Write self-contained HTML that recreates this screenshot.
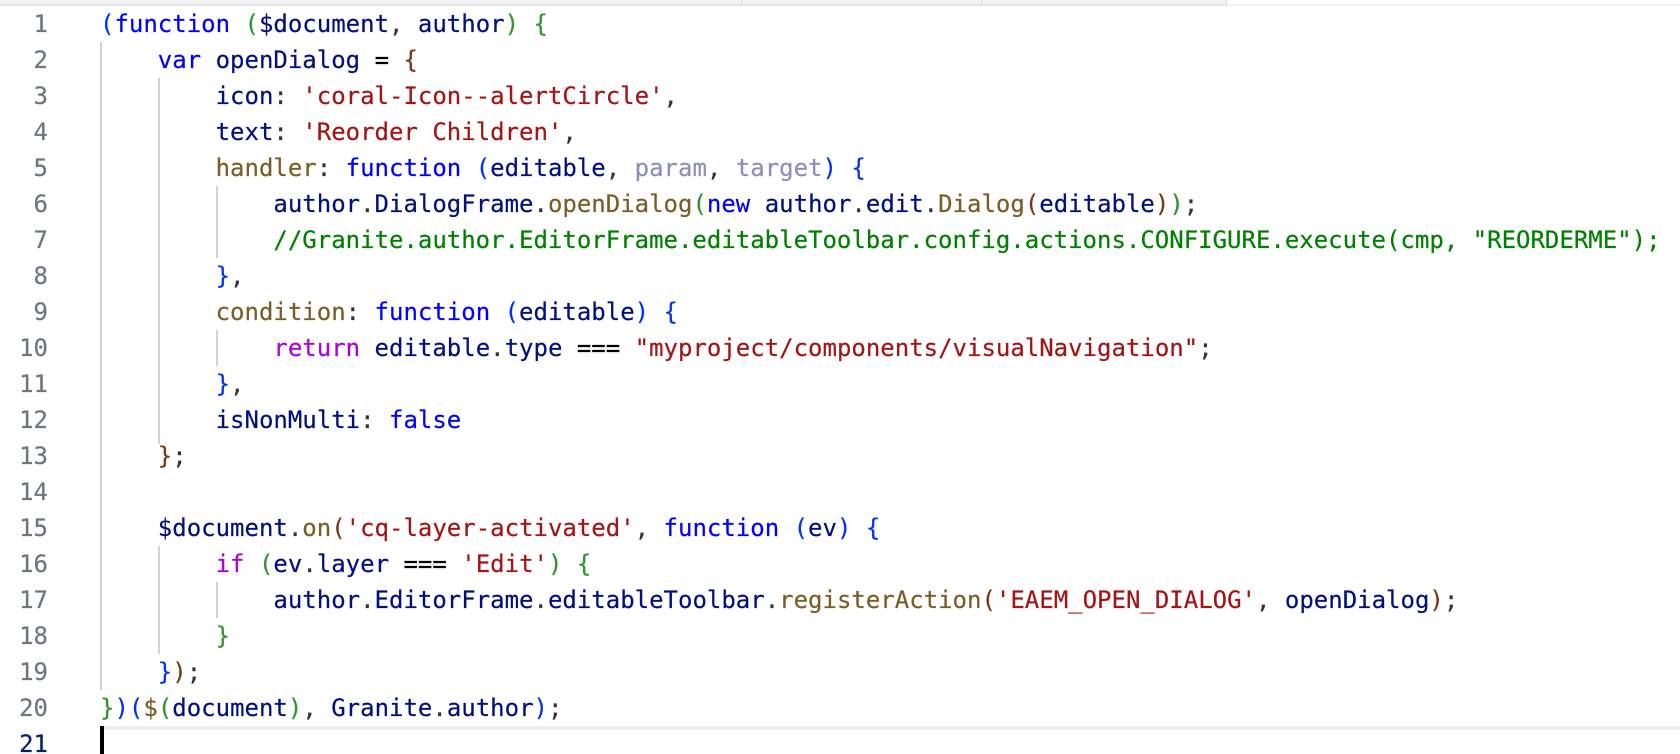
<!DOCTYPE html>
<html><head><meta charset="utf-8">
<style>
html,body{margin:0;padding:0;background:#fff}
#e{position:relative;width:1680px;height:754px;overflow:hidden;background:#fff;font-family:"DejaVu Sans Mono","Liberation Mono",monospace;font-size:24px;-webkit-text-stroke:0.2px}
.l,.n{position:absolute;height:36px;line-height:36px;white-space:pre}
.l{left:100px;color:#333}
.n{left:0;width:48px;text-align:right;color:#6e7681}
.g,.b{position:absolute}
.g{width:2px;background:#d3d3d3}
.k{color:#0000ff}.v{color:#001080}.s{color:#a31515}.f{color:#795e26}.c{color:#008000}
.B{color:#0431fa}.G{color:#319331}.R{color:#7b3814}.p{color:#af00db}.u{color:#8a90bd}.o{color:#000}
</style></head><body><div id="e">
<div class="b" style="left:0;top:0;width:1226px;height:4px;background:#f3f3f3"></div>
<div class="b" style="left:0;top:4px;width:1226px;height:2px;background:#e6e6e6"></div>
<div class="b" style="left:1226px;top:4px;width:454px;height:2px;background:#f3f3f3"></div>
<div class="b" style="left:741px;top:0;width:1px;height:5px;background:#dcdcdc"></div>
<div class="b" style="left:981px;top:0;width:1px;height:5px;background:#dcdcdc"></div>
<div class="b" style="left:1226px;top:0;width:1px;height:5px;background:#dcdcdc"></div>
<div class="b" style="left:100px;top:726px;width:1580px;height:4px;background:#eeeeee"></div>
<div class="b" style="left:100px;top:726px;width:4px;height:28px;background:#000"></div>
<div class="g" style="left:100px;top:42px;height:648px"></div>
<div class="g" style="left:158px;top:78px;height:366px"></div>
<div class="g" style="left:216px;top:186px;height:72px"></div>
<div class="g" style="left:216px;top:330px;height:36px"></div>
<div class="g" style="left:158px;top:546px;height:108px"></div>
<div class="g" style="left:216px;top:582px;height:36px"></div>

<div class="n" style="top:6px">1</div>
<div class="n" style="top:42px">2</div>
<div class="n" style="top:78px">3</div>
<div class="n" style="top:114px">4</div>
<div class="n" style="top:150px">5</div>
<div class="n" style="top:186px">6</div>
<div class="n" style="top:222px">7</div>
<div class="n" style="top:258px">8</div>
<div class="n" style="top:294px">9</div>
<div class="n" style="top:330px">10</div>
<div class="n" style="top:366px">11</div>
<div class="n" style="top:402px">12</div>
<div class="n" style="top:438px">13</div>
<div class="n" style="top:474px">14</div>
<div class="n" style="top:510px">15</div>
<div class="n" style="top:546px">16</div>
<div class="n" style="top:582px">17</div>
<div class="n" style="top:618px">18</div>
<div class="n" style="top:654px">19</div>
<div class="n" style="top:690px">20</div>
<div class="n" style="top:726px;color:#0b216f">21</div>

<div class="l" style="top:6px"><span class="B">(</span><span class="k">function</span> <span class="G">(</span><span class="v">$document</span>, <span class="v">author</span><span class="G">)</span> <span class="G">{</span></div>
<div class="l" style="top:42px">    <span class="k">var</span> <span class="v">openDialog</span> <span class="o">=</span> <span class="R">{</span></div>
<div class="l" style="top:78px">        <span class="v">icon</span>: <span class="s">'coral-Icon--alertCircle'</span>,</div>
<div class="l" style="top:114px">        <span class="v">text</span>: <span class="s">'Reorder Children'</span>,</div>
<div class="l" style="top:150px">        <span class="f">handler</span>: <span class="k">function</span> <span class="B">(</span><span class="v">editable</span>, <span class="u">param</span>, <span class="u">target</span><span class="B">)</span> <span class="B">{</span></div>
<div class="l" style="top:186px">            <span class="v">author</span>.<span class="v">DialogFrame</span>.<span class="f">openDialog</span><span class="G">(</span><span class="k">new</span> <span class="v">author</span>.<span class="v">edit</span>.<span class="f">Dialog</span><span class="R">(</span><span class="v">editable</span><span class="R">)</span><span class="G">)</span>;</div>
<div class="l c" style="top:222px">            //Granite.author.EditorFrame.editableToolbar.config.actions.CONFIGURE.execute(cmp, "REORDERME");</div>
<div class="l" style="top:258px">        <span class="B">}</span>,</div>
<div class="l" style="top:294px">        <span class="f">condition</span>: <span class="k">function</span> <span class="B">(</span><span class="v">editable</span><span class="B">)</span> <span class="B">{</span></div>
<div class="l" style="top:330px">            <span class="p">return</span> <span class="v">editable</span>.<span class="v">type</span> <span class="o">===</span> <span class="s">"myproject/components/visualNavigation"</span>;</div>
<div class="l" style="top:366px">        <span class="B">}</span>,</div>
<div class="l" style="top:402px">        <span class="v">isNonMulti</span>: <span class="k">false</span></div>
<div class="l" style="top:438px">    <span class="R">}</span>;</div>
<div class="l" style="top:510px">    <span class="v">$document</span>.<span class="f">on</span><span class="R">(</span><span class="s">'cq-layer-activated'</span>, <span class="k">function</span> <span class="B">(</span><span class="v">ev</span><span class="B">)</span> <span class="B">{</span></div>
<div class="l" style="top:546px">        <span class="p">if</span> <span class="G">(</span><span class="v">ev</span>.<span class="v">layer</span> <span class="o">===</span> <span class="s">'Edit'</span><span class="G">)</span> <span class="G">{</span></div>
<div class="l" style="top:582px">            <span class="v">author</span>.<span class="v">EditorFrame</span>.<span class="v">editableToolbar</span>.<span class="f">registerAction</span><span class="R">(</span><span class="s">'EAEM_OPEN_DIALOG'</span>, <span class="v">openDialog</span><span class="R">)</span>;</div>
<div class="l" style="top:618px">        <span class="G">}</span></div>
<div class="l" style="top:654px">    <span class="B">}</span><span class="R">)</span>;</div>
<div class="l" style="top:690px"><span class="G">}</span><span class="B">)(</span><span class="f">$</span><span class="G">(</span><span class="v">document</span><span class="G">)</span>, <span class="v">Granite</span>.<span class="v">author</span><span class="B">)</span>;</div>
</div></body></html>
